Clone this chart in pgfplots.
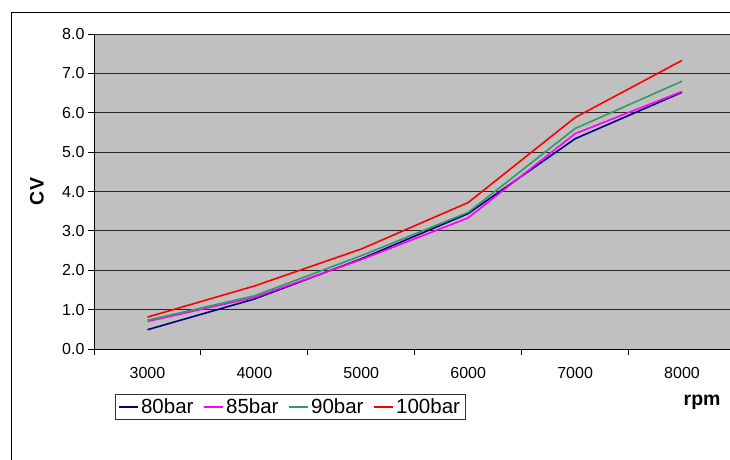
\documentclass[border=0pt]{standalone}
\usepackage{pgfplots}
\pgfplotsset{compat=1.18}
\usepackage{fontspec}
\setmainfont{Liberation Sans}
\definecolor{plotgray}{HTML}{C0C0C0}
\definecolor{s80}{HTML}{000080}
\definecolor{s85}{HTML}{FF00FF}
\definecolor{s90}{HTML}{339966}
\definecolor{s100}{HTML}{FF0000}
\begin{document}
\begin{tikzpicture}[x=1pt,y=1pt]
\useasboundingbox (0,0) rectangle (730,459);
\draw[black, line width=1pt] (11,446) rectangle (760,-20);
\begin{axis}[
  at={(94pt,110pt)}, anchor=south west,
  scale only axis, width=641.5pt, height=315pt,
  xmin=2500, xmax=8500, ymin=0, ymax=8,
  axis lines=left, axis line style={-, black, line width=1pt},
  axis background/.style={fill=plotgray},
  xtick={3000,4000,5000,6000,7000,8000},
  xticklabels={3000,4000,5000,6000,7000,8000},
  minor xtick={2500,3500,4500,5500,6500,7500,8500},
  every major x tick/.style={draw=none},
  ytick={0,1,2,3,4,5,6,7,8},
  yticklabels={0.0,1.0,2.0,3.0,4.0,5.0,6.0,7.0,8.0},
  scaled x ticks=false,
  tick align=outside, major tick length=6pt, minor tick length=6pt,
  tick style={black, line width=1pt},
  ymajorgrids, major grid style={black!85, line width=1pt},
  ticklabel style={font=\fontsize{16}{19}\selectfont},
  xticklabel style={yshift=-9pt},
  /pgf/number format/assume math mode=true,
  ylabel={CV},
  ylabel style={at={(axis description cs:-0.0889,0.5)}, anchor=center, rotate=0, font=\bfseries\fontsize{19.5}{23}\selectfont},
  xlabel={rpm},
  xlabel style={at={(axis description cs:0.948,-0.17)}, anchor=center, font=\bfseries\fontsize{19.5}{23}\selectfont},
  legend columns=4,
  legend style={at={(axis description cs:0.0327,-0.1429)}, anchor=north west,
    draw=black!80, line width=1pt, font=\fontsize{20.5}{24}\selectfont,
    inner xsep=3pt, inner ysep=2.5pt,
    /tikz/every even column/.append style={column sep=8pt}},
  legend image code/.code={\draw[#1] (0pt,0pt) -- (19pt,0pt);},
]
\addplot[draw=s80, line width=1.6pt] coordinates {(3000,0.49) (4000,1.27) (5000,2.29) (6000,3.44) (7000,5.34) (8000,6.52)};
\addplot[draw=s85, line width=1.6pt] coordinates {(3000,0.70) (4000,1.31) (5000,2.27) (6000,3.33) (7000,5.47) (8000,6.54)};
\addplot[draw=s90, line width=1.6pt] coordinates {(3000,0.73) (4000,1.35) (5000,2.37) (6000,3.47) (7000,5.60) (8000,6.80)};
\addplot[draw=s100, line width=1.6pt] coordinates {(3000,0.81) (4000,1.60) (5000,2.54) (6000,3.72) (7000,5.88) (8000,7.33)};
\legend{80bar,85bar,90bar,100bar}
\end{axis}
\end{tikzpicture}
\end{document}
